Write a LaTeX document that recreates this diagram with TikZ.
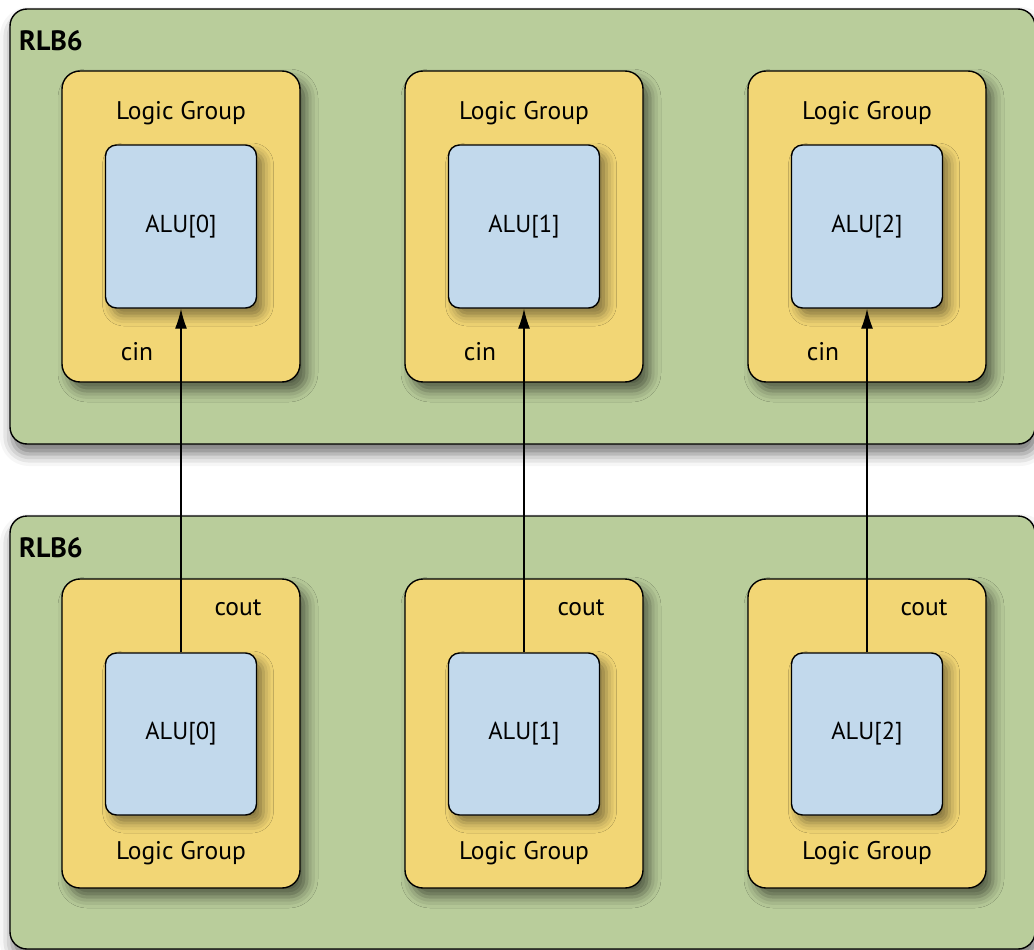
\documentclass[tikz,border=0pt]{standalone}
\usepackage{fontspec}
\setmainfont{PT Sans}
\usetikzlibrary{arrows.meta,shadows.blur}
\definecolor{rlbgreen}{RGB}{185,205,155}
\definecolor{lggold}{RGB}{242,214,117}
\definecolor{alublue}{RGB}{194,217,236}
\tikzset{
  rlbbox/.style={draw=black, line width=1.4pt, fill=rlbgreen, rounded corners=17pt,
    blur shadow={shadow xshift=2pt, shadow yshift=-10pt, shadow blur radius=12pt, shadow opacity=55}},
  groupbox/.style={draw=black, line width=1.4pt, fill=lggold, rounded corners=18pt,
    minimum width=238pt, minimum height=311pt, inner sep=0pt,
    blur shadow={shadow xshift=7pt, shadow yshift=-9pt, shadow blur radius=11pt, shadow opacity=55}},
  alubox/.style={draw=black, line width=1.4pt, fill=alublue, rounded corners=11pt,
    minimum width=151pt, minimum height=163pt, inner sep=0pt, font=\fontsize{24.5}{28}\selectfont,
    blur shadow={shadow xshift=7pt, shadow yshift=-8pt, shadow blur radius=10pt, shadow opacity=45}},
  lbl/.style={inner sep=0pt, font=\fontsize{25.5}{30}\selectfont},
  title/.style={inner sep=0pt, font=\fontsize{28}{32}\selectfont\bfseries},
  carry/.style={line width=1.4pt, -{Latex[length=20pt,width=12pt]}}
}
\begin{document}
\begin{tikzpicture}[x=1pt,y=-1pt]
\useasboundingbox (0,0) rectangle (1034,950);
\begin{scope}
\clip (0,0) rectangle (1034,950);
% the two RLB6 blocks
\node[rlbbox, minimum width=1025pt, minimum height=435pt, inner sep=0pt] (rlbT) at (522.5,226.5) {};
\node[rlbbox, minimum width=1025pt, minimum height=433pt, inner sep=0pt] (rlbB) at (522.5,732.5) {};
\end{scope}
\node[title, anchor=west] (rlbTname) at (19,41) {RLB6};
\node[title, anchor=west] (rlbBname) at (19,548) {RLB6};
% one logic group per column in each block
\foreach \i/\cx in {0/181,1/524,2/867}{
  \node[groupbox] (lgT\i) at (\cx,226.5) {};
  \node[alubox] (aluT\i) at (\cx,226.5) {ALU[\i]};
  \node[lbl] (lgTname\i) at (\cx,113) {Logic Group};
  \node[lbl] (cin\i) at (\cx-44,352) {cin};
  \node[groupbox, minimum height=309pt] (lgB\i) at (\cx,733.5) {};
  \node[alubox, minimum height=162pt] (aluB\i) at (\cx,734) {ALU[\i]};
  \node[lbl] (lgBname\i) at (\cx,853) {Logic Group};
  \node[lbl] (cout\i) at (\cx+57,608) {cout};
}
% carry chain from the lower block to the upper one
\foreach \i in {0,1,2}{
  \draw[carry] (aluB\i.north) -- (aluT\i.south);
}
\end{tikzpicture}
\end{document}
